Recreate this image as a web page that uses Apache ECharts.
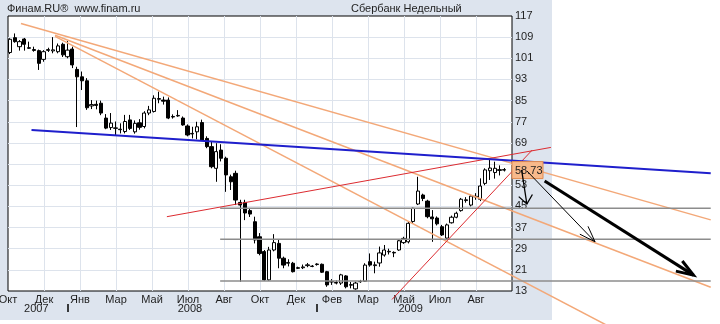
<!DOCTYPE html>
<html>
<head>
<meta charset="utf-8">
<script src="https://cdn.jsdelivr.net/npm/echarts@6/dist/echarts.min.js"></script>
<style>
  html, body { margin: 0; padding: 0; background: #ffffff; }
  #chart { width: 720px; height: 324px; }
</style>
</head>
<body>
<div id="chart"></div>
<script>
const FONT = '"Liberation Sans", Arial, sans-serif';

// Сбербанк, weekly candles from the week of 8 Oct 2007 (index = week number)
const open = [
  103.2, 108.8, 105.4, 108.3, 105.0, 104.3, 103.9, 100.6, 104.0, 103.8,
  103.5, 106.3, 101.6, 104.5, 96.8, 94.0, 92.5, 83.0, 83.6, 84.0,
  78.4, 74.8, 74.5, 74.2, 73.3, 77.7, 73.2, 76.6, 75.2, 80.3,
  80.9, 85.5, 85.2, 85.2, 78.8, 79.2, 78.4, 75.4, 72.4, 73.2,
  76.7, 70.7, 67.6, 59.4, 66.3, 63.2, 56.2, 57.5, 46.5, 46.5,
  43.4, 39.2, 33.5, 27.9, 17.2, 28.5, 31.0, 25.4, 23.5, 23.5,
  21.8, 21.8, 22.6, 22.4, 23.0, 23.1, 20.3, 16.4, 16.2, 16.0,
  18.7, 15.2, 13.8, 16.5, 16.7, 24.1, 22.6, 23.6, 26.6, 27.8,
  27.6, 28.5, 31.3, 31.6, 39.3, 45.9, 49.3, 47.0, 41.0, 40.6,
  37.3, 33.0, 38.8, 40.9, 43.4, 47.2, 45.5, 48.6, 47.7, 53.7,
  58.5, 57.8, 58.6, 58.9
];
const close = [
  108.2, 107.3, 107.3, 106.3, 104.8, 104.0, 99.1, 103.5, 104.3, 104.2,
  105.7, 102.3, 104.1, 98.5, 94.0, 92.5, 82.3, 83.5, 83.2, 80.3,
  74.6, 76.5, 74.7, 74.0, 77.1, 74.5, 76.4, 74.9, 80.3, 81.5,
  85.9, 85.8, 84.8, 78.4, 79.0, 79.4, 75.8, 72.0, 72.6, 75.1,
  70.1, 67.6, 60.0, 65.7, 63.2, 56.9, 54.3, 47.4, 45.5, 42.5,
  42.1, 32.3, 27.2, 17.2, 28.5, 31.3, 25.4, 22.8, 23.8, 20.3,
  21.6, 22.1, 22.9, 22.3, 23.2, 20.1, 15.3, 16.6, 16.0, 19.1,
  14.6, 15.4, 16.0, 16.6, 22.8, 22.8, 22.9, 27.4, 28.5, 28.0,
  27.4, 32.0, 32.9, 38.6, 44.3, 50.8, 48.0, 41.1, 40.3, 38.4,
  34.2, 38.0, 40.9, 42.4, 47.7, 47.5, 48.9, 48.8, 52.7, 58.8,
  59.5, 59.4, 58.9, 58.73
];
const low = [
  102.6, 106.9, 103.9, 103.9, 104.6, 103.5, 96.6, 99.7, 103.4, 102.9,
  102.9, 101.5, 101.0, 97.3, 75.0, 89.0, 81.5, 81.8, 81.7, 79.5,
  74.2, 73.9, 72.0, 72.6, 72.6, 73.9, 72.5, 74.0, 74.5, 79.5,
  80.5, 84.0, 83.5, 78.0, 78.2, 78.9, 75.5, 71.5, 70.7, 70.4,
  69.8, 67.0, 59.4, 54.3, 62.0, 50.5, 51.2, 45.5, 16.5, 39.8,
  41.0, 31.0, 26.5, 16.9, 16.9, 28.0, 21.6, 21.6, 22.3, 20.0,
  21.3, 21.3, 22.0, 22.0, 22.6, 19.8, 14.6, 15.3, 15.5, 15.3,
  14.0, 14.0, 13.5, 16.1, 16.5, 22.2, 19.7, 22.2, 26.0, 26.8,
  25.8, 28.2, 30.8, 31.0, 38.5, 45.5, 47.0, 40.5, 31.6, 37.8,
  33.8, 32.5, 38.5, 40.5, 43.0, 46.4, 45.0, 47.5, 47.0, 53.0,
  55.0, 55.5, 56.7, 58.2
];
const high = [
  108.6, 110.4, 107.9, 108.7, 107.3, 105.4, 104.3, 104.1, 105.0, 109.0,
  106.6, 106.9, 107.5, 105.4, 97.8, 96.0, 93.5, 85.2, 85.0, 85.0,
  79.9, 80.3, 77.1, 76.4, 79.6, 79.6, 77.5, 78.0, 81.0, 83.0,
  87.0, 88.4, 86.5, 86.2, 79.8, 81.4, 79.0, 76.0, 75.1, 77.0,
  77.8, 71.5, 69.5, 68.9, 68.5, 63.8, 57.0, 58.5, 47.5, 47.5,
  44.0, 41.1, 34.9, 28.5, 29.7, 34.5, 32.5, 26.0, 25.0, 24.0,
  22.2, 23.0, 23.6, 22.8, 23.5, 23.4, 20.6, 17.5, 17.0, 19.5,
  19.0, 16.4, 16.5, 17.2, 23.5, 27.2, 24.1, 29.8, 30.4, 29.0,
  28.0, 32.5, 33.5, 39.2, 44.5, 56.2, 49.8, 47.5, 43.6, 41.2,
  38.0, 38.5, 41.5, 43.0, 48.2, 48.5, 49.5, 50.0, 55.6, 59.4,
  62.8, 61.9, 60.5, 59.5
];

// time axis labels: one gridline every 7.5 weeks
const monthLabels = ['Окт', 'Дек', 'Янв', 'Мар', 'Май', 'Июл', 'Авг', 'Окт', 'Дек', 'Фев', 'Мар', 'Май', 'Июл', 'Авг'];
const years = ['2007', '2008', '2009'];
const yearCenters = [5.5, 37.5, 83.5];   // middle week of each year on the chart
const yearStarts = [12, 64];             // first week of 2008 and 2009

// price scale
const priceMin = 13, priceMax = 117, priceStep = 8;

// drawn analysis: [week, price] end points
const blueLine = [[4.5, 73.9], [146.0, 57.5]];
const redLines = [
  [[32.7, 41.1], [112.7, 67.3]],
  [[79.6, 9.8], [108.8, 66.3]]
];
const fanLines = [
  [[2.3, 114.2], [146.0, 39.9]],
  [[9.4, 109.7], [146.0, 14.4]],
  [[9.4, 109.3], [126.3, -1.8]]
];
const levels = [44.3, 32.6, 16.8];
const levelSpan = [43.8, 146.0];
const arrows = [
  [[106.6, 58.8], [107.7, 45.9]],
  [[107.7, 58.4], [121.9, 31.6]],
  [[111.4, 54.6], [142.4, 19.0]]
];
const lastPrice = close[close.length - 1];

const weekMin = -0.4, weekMax = 104.6;

const arrowStyle = [
  { width: 1.3, len: 11, ang: 0.68 },
  { width: 1, len: 17, ang: 0.34 },
  { width: 3, len: 18, ang: 0.34 }
];

const labelText = { color: '#1e1e1e', fontSize: 11, fontFamily: FONT };

// every analysis line as [points, colour, width], drawn in this order
const drawnLines = []
  .concat(fanLines.map(l => [l, '#f3a878', 1.5]))
  .concat(levels.map(v => [[[levelSpan[0], v], [levelSpan[1], v]], '#8c8c8c', 1.5]))
  .concat(redLines.map(l => [l, '#dc2b30', 1]))
  .concat([[blueLine, '#1f1fcc', 2]]);

function renderAnalysis(params, api) {
  const children = [];
  drawnLines.forEach(d => {
    children.push({
      type: 'polyline',
      shape: { points: d[0].map(p => api.coord(p)) },
      style: { stroke: d[1], lineWidth: d[2], fill: null }
    });
  });
  const edge = api.coord([weekMax, lastPrice]);
  children.push({
    type: 'rect',
    shape: { x: edge[0], y: edge[1] - 8.5, width: 31, height: 17 },
    style: { fill: '#f8b98b', stroke: '#e08a50', lineWidth: 1 }
  });
  children.push({
    type: 'text',
    style: {
      text: lastPrice.toFixed(2), x: edge[0] + 3, y: edge[1] + 1,
      verticalAlign: 'middle', align: 'left',
      font: '11px ' + FONT, fill: '#1e1e1e'
    }
  });
  arrows.forEach((a, k) => {
    const s = arrowStyle[k];
    const p0 = api.coord(a[0]);
    const p1 = api.coord(a[1]);
    const t = Math.atan2(p1[1] - p0[1], p1[0] - p0[0]);
    children.push({
      type: 'polyline', shape: { points: [p0, p1] },
      style: { stroke: '#000000', lineWidth: s.width, fill: null }
    });
    children.push({
      type: 'polyline',
      shape: {
        points: [
          [p1[0] - s.len * Math.cos(t - s.ang), p1[1] - s.len * Math.sin(t - s.ang)],
          p1,
          [p1[0] - s.len * Math.cos(t + s.ang), p1[1] - s.len * Math.sin(t + s.ang)]
        ]
      },
      style: { stroke: '#000000', lineWidth: s.width, fill: null, lineJoin: 'miter' }
    });
  });
  return { type: 'group', children: children };
}

const series = [
  {
    type: 'candlestick', xAxisIndex: 0, yAxisIndex: 0,
    data: open.map((o, i) => [i, o, close[i], low[i], high[i]]),
    barWidth: 3.6,
    z: 2,
    itemStyle: {
      color: '#ffffff', color0: '#000000',
      borderColor: '#000000', borderColor0: '#000000',
      borderColorDoji: '#000000', borderWidth: 1
    }
  },
  {
    type: 'custom', xAxisIndex: 0, yAxisIndex: 0,
    data: [0], clip: false, silent: true, z: 6,
    renderItem: renderAnalysis
  }
];

const chart = echarts.init(document.getElementById('chart'), null, { renderer: 'canvas' });
chart.setOption({
  animation: false,
  backgroundColor: '#ffffff',
  graphic: [{
    type: 'rect', z: -100, silent: true,
    shape: { x: 0, y: 0, width: 552, height: 320 },
    style: { fill: '#dde4ee' }
  }],
  title: [
    { text: 'Финам.RU®  www.finam.ru', left: 7, top: 3, padding: 0,
      textStyle: { fontSize: 11, fontWeight: 'normal', color: '#1e1e1e', fontFamily: FONT } },
    { text: 'Сбербанк Недельный', left: 351, top: 3, padding: 0,
      textStyle: { fontSize: 11, fontWeight: 'normal', color: '#1e1e1e', fontFamily: FONT } }
  ],
  grid: {
    left: 8, top: 16, width: 504, height: 275,
    show: true, backgroundColor: '#ffffff', borderColor: '#000000', borderWidth: 1,
    containLabel: false, outerBoundsMode: 'none'
  },
  xAxis: [
    {
      type: 'value', min: weekMin, max: weekMax, position: 'bottom', offset: 13,
      axisLine: { show: false },
      axisTick: { show: true, customValues: yearStarts, length: 8, inside: false,
        lineStyle: { color: '#000000', width: 1.5 } },
      axisLabel: Object.assign({ customValues: yearCenters, margin: -1,
        formatter: v => years[yearCenters.indexOf(v)] || '' }, labelText),
      splitLine: { show: false }
    },
    {
      type: 'value', min: 0, max: 14, interval: 1, position: 'bottom',
      axisLine: { show: false }, axisTick: { show: false },
      axisLabel: Object.assign({ margin: 3,
        formatter: v => monthLabels[v] || '' }, labelText),
      splitLine: { show: true, showMinLine: false, showMaxLine: false,
        lineStyle: { color: '#dde3ec', width: 1 } }
    }
  ],
  yAxis: {
    type: 'value', min: priceMin, max: priceMax, interval: priceStep, position: 'right',
    axisLine: { show: false }, axisTick: { show: false },
    // the price tag covers the tick label next to it
    axisLabel: Object.assign({ margin: 3,
      formatter: v => (Math.abs(v - lastPrice) < 4 ? '' : String(v)) }, labelText),
    splitLine: { show: true, showMinLine: false, showMaxLine: false,
      lineStyle: { color: '#dde3ec', width: 1 } }
  },
  series: series
});
</script>
</body>
</html>
